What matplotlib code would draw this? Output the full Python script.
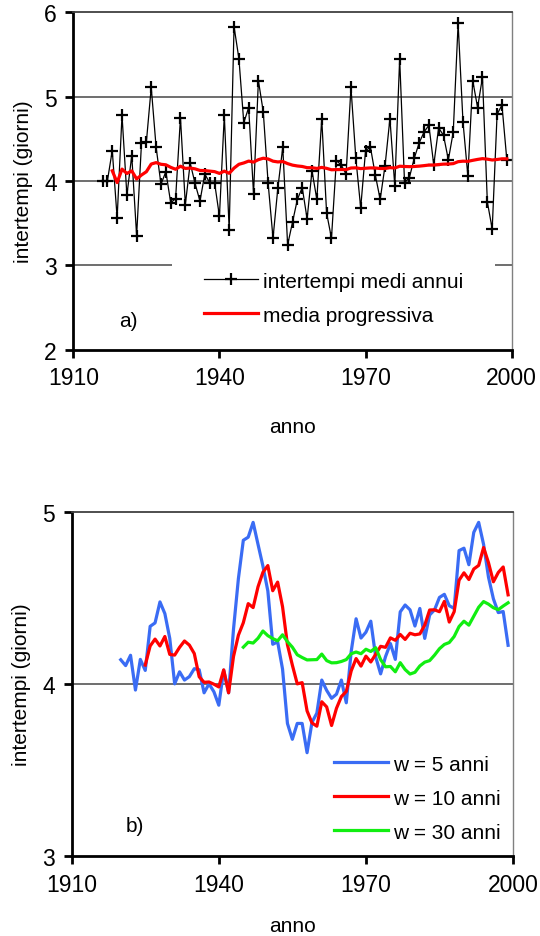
import matplotlib
matplotlib.use("Agg")
import matplotlib.pyplot as plt
from matplotlib.patches import Rectangle

plt.rcParams['font.family'] = ['Liberation Sans', 'DejaVu Sans']

# ---- data ----
years = list(range(1916, 2000))
annual = [4.00, 4.00, 4.36, 3.56, 4.78, 3.83, 4.30, 3.35, 4.45, 4.46,
          5.11, 4.40, 3.96, 4.11, 3.74, 3.79, 4.75, 3.72, 4.21, 3.97,
          3.76, 4.08, 3.98, 3.98, 3.58, 4.78, 3.42, 5.83, 5.45, 4.69,
          4.87, 3.85, 5.19, 4.82, 3.97, 3.32, 3.92, 4.40, 3.24, 3.51,
          3.78, 3.92, 3.55, 4.12, 3.78, 4.74, 3.62, 3.32, 4.24, 4.19,
          4.08, 5.11, 4.27, 3.68, 4.36, 4.40, 4.07, 3.78, 4.18, 4.74,
          3.94, 5.45, 3.98, 4.04, 4.27, 4.45, 4.58, 4.66, 4.19, 4.63,
          4.54, 4.25, 4.58, 5.87, 4.70, 4.06, 5.19, 4.87, 5.23, 3.75,
          3.43, 4.79, 4.90, 4.25]

prog_years = list(range(1918, 2000))
progressive = [4.120, 3.980, 4.140, 4.088, 4.119, 4.023, 4.070, 4.109,
               4.200, 4.217, 4.197, 4.191, 4.161, 4.138, 4.174, 4.148, 4.152, 4.143,
               4.124, 4.122, 4.116, 4.110, 4.089, 4.116, 4.090, 4.152, 4.197, 4.213,
               4.235, 4.223, 4.252, 4.269, 4.260, 4.234, 4.225, 4.230, 4.205, 4.187,
               4.177, 4.171, 4.157, 4.156, 4.148, 4.160, 4.149, 4.132, 4.134, 4.135,
               4.134, 4.153, 4.155, 4.146, 4.150, 4.154, 4.153, 4.147, 4.147, 4.157,
               4.153, 4.174, 4.171, 4.169, 4.171, 4.175, 4.181, 4.188, 4.188, 4.194,
               4.199, 4.200, 4.205, 4.228, 4.234, 4.232, 4.244, 4.255, 4.264, 4.258,
               4.248, 4.254, 4.262, 4.262]

w5_years = list(range(1920, 2000))
w5 = [4.140, 4.106, 4.166, 3.964, 4.142, 4.078, 4.334, 4.354, 4.476, 4.408,
      4.264, 4.000, 4.070, 4.022, 4.042, 4.088, 4.082, 3.948, 4.000, 3.954,
      3.876, 4.080, 3.948, 4.318, 4.612, 4.834, 4.852, 4.938, 4.810, 4.684,
      4.540, 4.230, 4.244, 4.086, 3.770, 3.678, 3.770, 3.770, 3.600, 3.776,
      3.830, 4.022, 3.962, 3.916, 3.940, 4.022, 3.890, 4.188, 4.378, 4.266,
      4.300, 4.364, 4.156, 4.058, 4.158, 4.234, 4.142, 4.418, 4.458, 4.430,
      4.336, 4.438, 4.264, 4.400, 4.430, 4.502, 4.520, 4.454, 4.438, 4.774,
      4.788, 4.692, 4.880, 4.938, 4.810, 4.620, 4.494, 4.414, 4.420, 4.224]

w10_years = list(range(1925, 2000))
w10 = [4.109, 4.220, 4.260, 4.220, 4.275, 4.171, 4.167, 4.212, 4.249, 4.225,
       4.176, 4.041, 4.009, 4.011, 3.998, 3.982, 4.081, 3.948, 4.159, 4.283,
       4.355, 4.466, 4.443, 4.564, 4.648, 4.687, 4.541, 4.591, 4.448, 4.227,
       4.109, 4.000, 4.007, 3.843, 3.773, 3.754, 3.896, 3.866, 3.758, 3.858,
       3.926, 3.956, 4.075, 4.147, 4.103, 4.161, 4.127, 4.172, 4.218, 4.212,
       4.267, 4.253, 4.287, 4.258, 4.294, 4.285, 4.290, 4.341, 4.429, 4.430,
       4.419, 4.479, 4.359, 4.419, 4.602, 4.645, 4.606, 4.667, 4.688, 4.792,
       4.704, 4.593, 4.647, 4.679, 4.517]

w30_years = list(range(1945, 2000))
w30 = [4.213, 4.242, 4.237, 4.265, 4.307, 4.280, 4.263, 4.250, 4.285, 4.245,
       4.213, 4.169, 4.153, 4.139, 4.140, 4.141, 4.173, 4.135, 4.122, 4.123,
       4.130, 4.141, 4.175, 4.185, 4.175, 4.201, 4.188, 4.210, 4.141, 4.099,
       4.101, 4.070, 4.123, 4.083, 4.057, 4.067, 4.104, 4.126, 4.135, 4.167,
       4.204, 4.229, 4.240, 4.275, 4.333, 4.364, 4.341, 4.393, 4.445, 4.478,
       4.463, 4.442, 4.431, 4.452, 4.471]

xticks = [1910, 1940, 1970, 2000]
top_yticks = [2, 3, 4, 5, 6]
bot_yticks = [3, 4, 5]
ylabel = "intertempi (giorni)"
xlabel = "anno"

FS = 15
TFS = 16.5

fig = plt.figure(figsize=(5.4, 9.37), dpi=100)
W, H = 540, 937

def add_ax(l, r, t, b):
    return fig.add_axes([l / W, 1 - b / H, (r - l) / W, (b - t) / H])

ax1 = add_ax(73.3, 511.7, 13.3, 350.5)
ax2 = add_ax(71.7, 513.0, 512.7, 857.0)

def style(ax, yticks, grid_vals, xpad):
    ax.set_xlim(1910, 2000)
    ax.set_ylim(yticks[0], yticks[-1])
    ax.set_xticks(xticks)
    ax.set_yticks(yticks)
    ax.tick_params(axis='both', direction='out', length=6, width=2,
                   labelsize=TFS, pad=6, colors='black')
    ax.spines['left'].set_linewidth(2)
    ax.spines['bottom'].set_linewidth(2)
    ax.spines['top'].set_color('#404040')
    ax.spines['top'].set_linewidth(1.3)
    ax.spines['right'].set_color('#808080')
    ax.spines['right'].set_linewidth(1.0)
    for g in grid_vals:
        ax.axhline(g, color='#555555', lw=1.2, zorder=0.5)
    ax.set_ylabel(ylabel, fontsize=FS, labelpad=8)
    ax.set_xlabel(xlabel, fontsize=FS, labelpad=xpad)

style(ax1, top_yticks, [3, 4, 5], 20)
style(ax2, bot_yticks, [4], 15)

# top chart
ax1.plot(years, annual, color='black', lw=0.9, marker='+', ms=8, mew=1.6,
         label='intertempi medi annui', zorder=2)
ax1.plot(prog_years, progressive, color='#ff0000', lw=2.3,
         label='media progressiva', zorder=3)
ax1.add_patch(Rectangle((0.225, 0.2), 0.737, 0.09, transform=ax1.transAxes,
                        facecolor='white', edgecolor='none', zorder=1))
ax1.legend(loc='center left', bbox_to_anchor=(0.298, 0.152),
           frameon=False, fontsize=FS, handlelength=2.6,
           handletextpad=0.25, labelspacing=0.72, borderpad=0,
           borderaxespad=0)
ax1.text(0.125, 0.085, 'a)', transform=ax1.transAxes, fontsize=FS,
         ha='center', va='center')

# bottom chart
ax2.plot(w5_years, w5, color='#3a6cf4', lw=2.3, label='w = 5 anni', zorder=2)
ax2.plot(w10_years, w10, color='#ff0000', lw=2.3, label='w = 10 anni', zorder=3)
ax2.plot(w30_years, w30, color='#11ee11', lw=2.3, label='w = 30 anni', zorder=4)
ax2.legend(loc='center left', bbox_to_anchor=(0.594, 0.168),
           frameon=False, fontsize=FS, handlelength=2.6,
           handletextpad=0.25, labelspacing=0.72, borderpad=0,
           borderaxespad=0)
ax2.text(0.143, 0.09, 'b)', transform=ax2.transAxes, fontsize=FS,
         ha='center', va='center')

fig.savefig('out.png', dpi=100)
